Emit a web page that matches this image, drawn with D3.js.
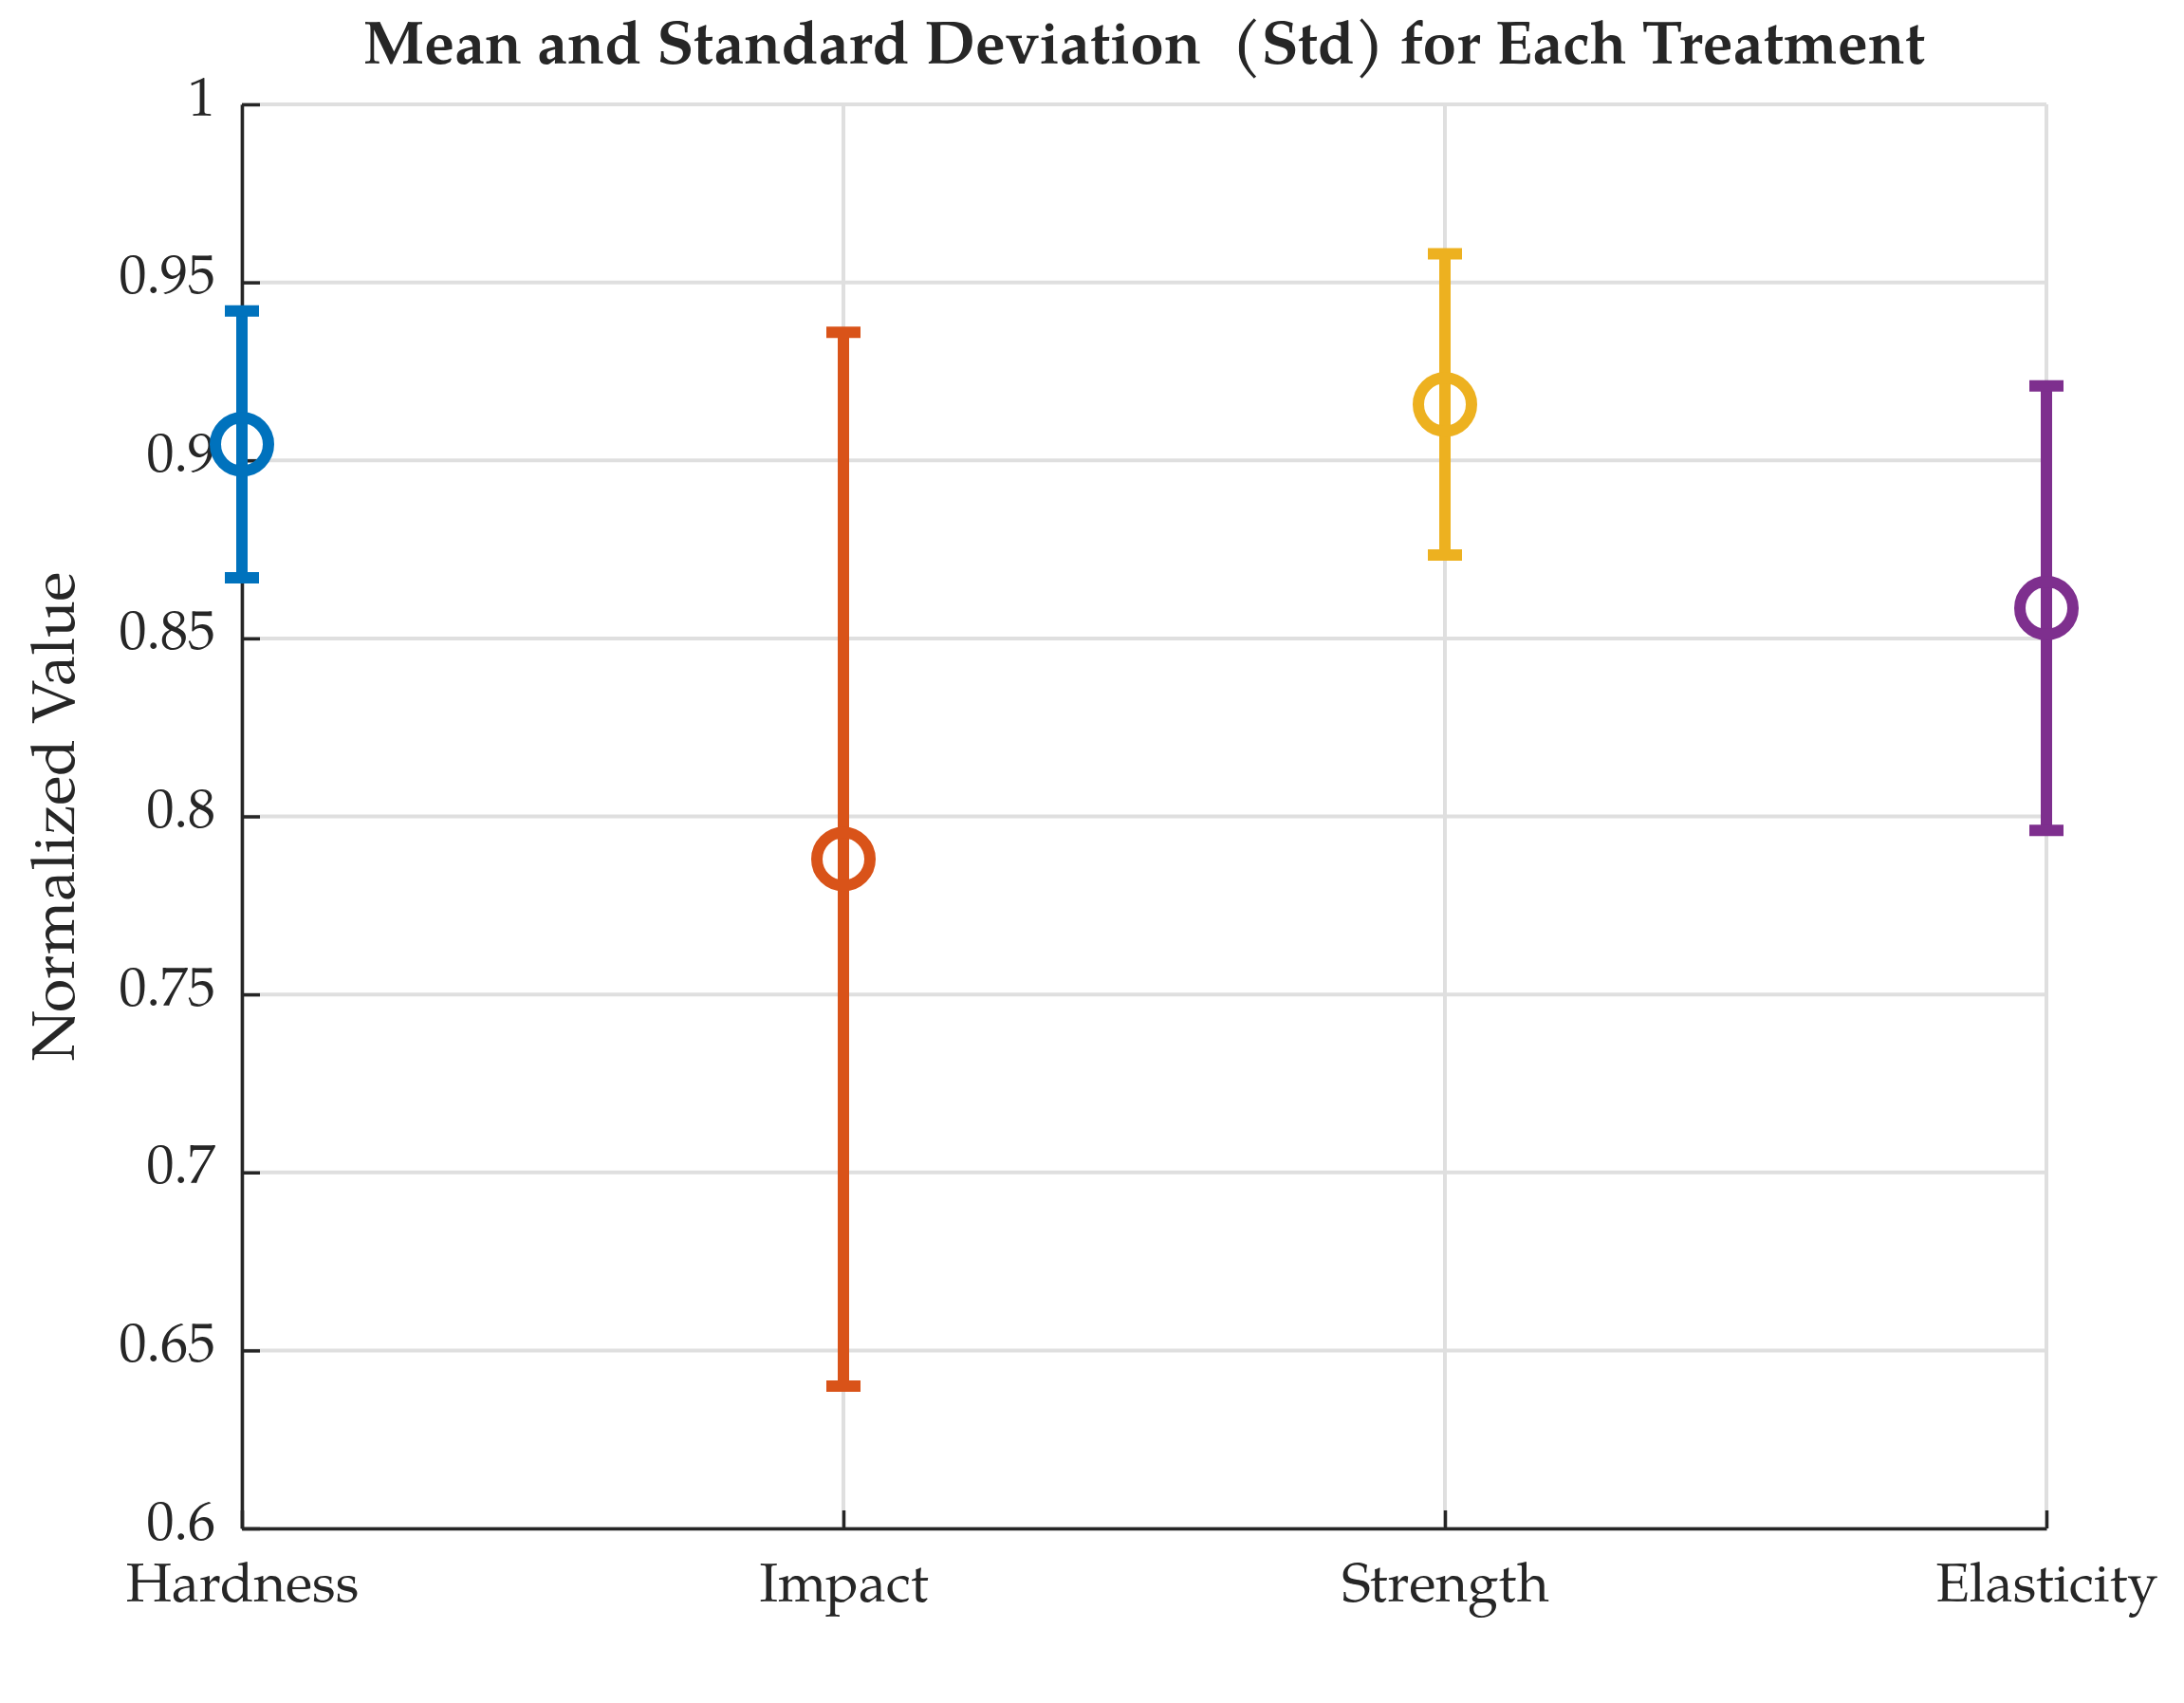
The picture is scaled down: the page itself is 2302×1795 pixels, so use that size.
<!DOCTYPE html>
<html>

<head>
  <meta charset='utf-8'>
  <style>
    body { margin: 0; background: #fff; }
    text { font-family: "Palatino Linotype", Palatino, "TeX Gyre Pagella", "Liberation Serif", serif; fill: #262626; }
  </style>
  <script type="text/javascript" src="https://cdn.jsdelivr.net/npm/d3@7"></script>
</head>

<body>

  <script type='module'>
    const categories = ["Hardness", "Impact", "Strength", "Elasticity"]
    const means = [0.9045, 0.788, 0.9157, 0.8585]
    const stds = [0.0375, 0.148, 0.0423, 0.0624]
    const colors = ["#0072BD", "#D95319", "#EDB120", "#7E2F8E"]
    const yTicks = [0.6, 0.65, 0.7, 0.75, 0.8, 0.85, 0.9, 0.95, 1]
    const yTickLabels = ["0.6", "0.65", "0.7", "0.75", "0.8", "0.85", "0.9", "0.95", "1"]

    let [width, height] = [2302, 1795]
    const svg = d3.select("body").append("svg")
      .attr("width", width).attr("height", height)
      .attr("viewBox", [0, 0, width, height]);

    const [left, right, top, bottom] = [255, 2157, 110, 1611]
    const x = d3.scalePoint().domain(categories).range([left, right])
    const y = d3.scaleLinear().domain([0.6, 1]).range([bottom, top])

    // grid
    const gGrid = svg.append("g").attr("stroke", "#dfdfdf").attr("stroke-width", 4)
    gGrid.selectAll(".h").data(yTicks).join("line")
      .attr("x1", left).attr("x2", right)
      .attr("y1", d => y(d)).attr("y2", d => y(d))
    gGrid.selectAll(".v").data(categories).join("line")
      .attr("x1", d => x(d)).attr("x2", d => x(d))
      .attr("y1", top).attr("y2", bottom)

    // axes
    const gy = svg.append("g").attr("transform", `translate(${left},0)`)
      .call(d3.axisLeft(y).tickValues(yTicks).tickFormat((d, i) => yTickLabels[i])
        .tickSizeInner(-19).tickSizeOuter(0).tickPadding(28))
    gy.selectAll("path, line").attr("stroke", "#262626").attr("stroke-width", 3.5)
    gy.selectAll("text").attr("font-size", 58).attr("dy", 11).attr("fill", "#262626")
    gy.attr("font-family", null).attr("font-size", null)

    const gx = svg.append("g").attr("transform", `translate(0,${bottom})`)
      .call(d3.axisBottom(x).tickSizeInner(-19).tickSizeOuter(0))
    gx.selectAll("path, line").attr("stroke", "#262626").attr("stroke-width", 3.5)
    gx.selectAll("text").attr("font-size", 58).attr("y", 77).attr("dy", null).attr("fill", "#262626")
    gx.attr("font-family", null).attr("font-size", null)

    // error bars
    const gErr = svg.append("g").attr("fill", "none").attr("stroke-width", 12)
    const rows = categories.map((c, i) => ({ c, m: means[i], s: stds[i], col: colors[i] }))
    const bars = gErr.selectAll("g").data(rows).join("g").attr("stroke", d => d.col)
    bars.append("line")
      .attr("x1", d => x(d.c)).attr("x2", d => x(d.c))
      .attr("y1", d => y(d.m + d.s)).attr("y2", d => y(d.m - d.s))
    bars.append("line")
      .attr("x1", d => x(d.c) - 18).attr("x2", d => x(d.c) + 18)
      .attr("y1", d => y(d.m + d.s)).attr("y2", d => y(d.m + d.s))
    bars.append("line")
      .attr("x1", d => x(d.c) - 18).attr("x2", d => x(d.c) + 18)
      .attr("y1", d => y(d.m - d.s)).attr("y2", d => y(d.m - d.s))
    bars.append("circle")
      .attr("cx", d => x(d.c)).attr("cy", d => y(d.m)).attr("r", 28)

    // title and label
    svg.append("text")
      .attr("x", (left + right) / 2).attr("y", 67)
      .attr("text-anchor", "middle").attr("font-size", 64).attr("font-weight", "bold")
      .attr("fill", "#000").style("white-space", "pre")
      .text("Mean and Standard Deviation  (Std) for Each Treatment")

    svg.append("text")
      .attr("transform", `translate(78,${(top + bottom) / 2}) rotate(-90)`)
      .attr("text-anchor", "middle").attr("font-size", 64)
      .text("Normalized Value")
  </script>
</body>

</html>
